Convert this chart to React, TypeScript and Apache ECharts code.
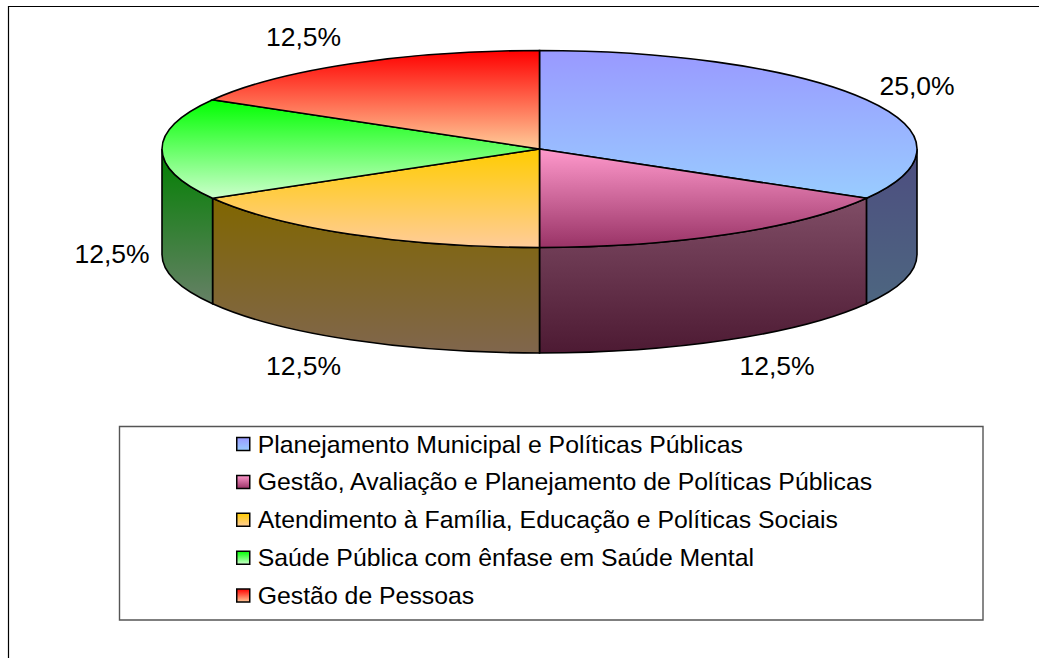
import React, { useEffect, useRef } from "react";
import * as echarts from "echarts";

const categories = [
  "Planejamento Municipal e Políticas Públicas",
  "Gestão, Avaliação e Planejamento de Políticas Públicas",
  "Atendimento à Família, Educação e Políticas Sociais",
  "Saúde Pública com ênfase em Saúde Mental",
  "Gestão de Pessoas",
];
const values = [25, 12.5, 12.5, 12.5, 12.5];
const valueLabels = ["25,0%", "12,5%", "12,5%", "12,5%", "12,5%"];
const topColors = [
  ["#9999ff", "#99ccff"],
  ["#ff99cc", "#993366"],
  ["#ffcc00", "#ffcc99"],
  ["#00ff00", "#ccffcc"],
  ["#ff0000", "#ffcc99"],
];
const sideColors = [
  ["#4d4d80", "#4d6680"],
  ["#804d66", "#4d1a33"],
  ["#806600", "#80664d"],
  ["#008000", "#668066"],
  ["#800000", "#80664d"],
];
const labelCenters = [
  [917, 86],
  [777, 366],
  [303.5, 366],
  [112, 254],
  [303.5, 37],
];

const CX = 539.5;
const CY = 149;
const RX = 377.5;
const RY = 98.5;
const DEPTH = 105.5;
const FONT = "'Liberation Sans', Arial, sans-serif";
const total = values.reduce((a, b) => a + b, 0);

const grad = (c: string[]) =>
  new echarts.graphic.LinearGradient(0, 0, 0, 1, [
    { offset: 0, color: c[0] },
    { offset: 1, color: c[1] },
  ]);
const pt = (t: number) => [CX + RX * Math.sin(t), CY - RY * Math.cos(t)];
const f = (n: number) => n.toFixed(2);

function renderSlice(i: number) {
  return (_params: any, api: any) => {
    const value = api.value(0);
    const before = api.value(1);
    const t0 = (before / total) * Math.PI * 2;
    const t1 = ((before + value) / total) * Math.PI * 2;
    const children: any[] = [];
    const s0 = Math.max(t0, Math.PI / 2);
    const s1 = Math.min(t1, (Math.PI * 3) / 2);
    if (s1 > s0) {
      const a = pt(s0);
      const b = pt(s1);
      children.push({
        type: "path",
        shape: {
          pathData:
            `M${f(a[0])} ${f(a[1])}A${RX} ${RY} 0 0 1 ${f(b[0])} ${f(b[1])}` +
            `L${f(b[0])} ${f(b[1] + DEPTH)}A${RX} ${RY} 0 0 0 ${f(a[0])} ${f(a[1] + DEPTH)}Z`,
        },
        style: { fill: grad(sideColors[i]), stroke: "#000", lineWidth: 1.6 },
      });
    }
    const a = pt(t0);
    const b = pt(t1);
    const large = t1 - t0 > Math.PI ? 1 : 0;
    children.push({
      type: "path",
      shape: {
        pathData: `M${CX} ${CY}L${f(a[0])} ${f(a[1])}A${RX} ${RY} 0 ${large} 1 ${f(b[0])} ${f(b[1])}Z`,
      },
      style: { fill: grad(topColors[i]), stroke: "#000", lineWidth: 1.6 },
    });
    children.push({
      type: "text",
      x: labelCenters[i][0],
      y: labelCenters[i][1],
      style: {
        text: valueLabels[i],
        fill: "#000",
        font: `26.5px ${FONT}`,
        align: "center",
        verticalAlign: "middle",
      },
    });
    return { type: "group", children };
  };
}

export default function App() {
  const ref = useRef<HTMLDivElement>(null);
  useEffect(() => {
    const chart = echarts.init(ref.current!, null, { renderer: "svg" });
    let cum = 0;
    const series = categories.map((name, i) => {
      const before = cum;
      cum += values[i];
      return {
        type: "custom",
        name,
        coordinateSystem: "none",
        renderItem: renderSlice(i),
        data: [[values[i], before]],
        itemStyle: { color: grad(topColors[i]) },
        silent: true,
      };
    });
    chart.setOption({
      animation: false,
      backgroundColor: "#fff",
      graphic: [
        {
          type: "rect",
          z: -1,
          shape: { x: 8.5, y: 6.5, width: 1100, height: 700 },
          style: { fill: "#fff", stroke: "#000", lineWidth: 1.2 },
        },
        {
          type: "rect",
          z: -1,
          shape: { x: 119.5, y: 426.5, width: 863.5, height: 193.5 },
          style: { fill: "#fff", stroke: "#555", lineWidth: 1.4 },
        },
      ],
      legend: {
        orient: "vertical",
        left: 236,
        top: 431.5,
        padding: 0,
        icon: "rect",
        itemWidth: 13,
        itemHeight: 13,
        itemGap: 12.9,
        selectedMode: false,
        itemStyle: { borderColor: "#000", borderWidth: 1.5 },
        textStyle: { color: "#000", fontFamily: FONT, fontSize: 24.8, padding: [0, 0, 0, 3] },
        data: categories,
      },
      series,
    });
    return () => chart.dispose();
  }, []);
  return (
    <div
      ref={ref}
      style={{ position: "fixed", left: 0, top: 0, width: 1039, height: 658 }}
    />
  );
}
